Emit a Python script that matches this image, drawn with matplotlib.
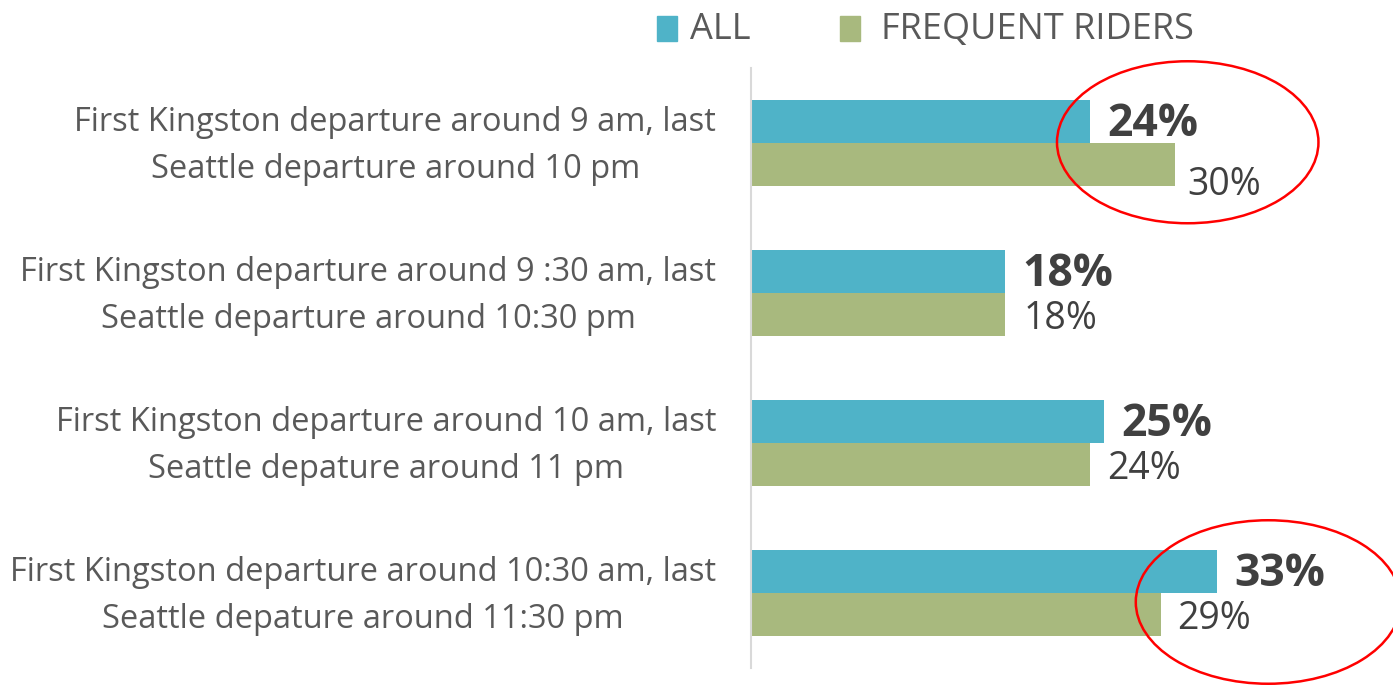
import matplotlib.pyplot as plt
from matplotlib.patches import Ellipse, Rectangle
from matplotlib.transforms import ScaledTranslation

categories = [
    "First Kingston departure around 9 am, last\nSeattle departure around 10 pm",
    "First Kingston departure around 9 :30 am, last\nSeattle departure around 10:30 pm",
    "First Kingston departure around 10 am, last\nSeattle depature around 11 pm",
    "First Kingston departure around 10:30 am, last\nSeattle depature around 11:30 pm",
]
all_vals = [24, 18, 25, 33]
freq_vals = [30, 18, 24, 29]
series_names = ["ALL", "FREQUENT RIDERS"]

blue = "#4FB3C8"
green = "#A8B97E"
txt = "#595959"
val_col = "#404040"
plt.rcParams['font.family'] = ['Open Sans', 'DejaVu Sans']

W, H = 1393, 685
fig = plt.figure(figsize=(W / 100, H / 100), dpi=100)
ax = fig.add_axes([751 / W, 1 - 668 / H, 636 / W, 600 / H])

h = 43 / 150
ys = list(range(len(categories)))
b1 = ax.barh([y - h / 2 for y in ys], all_vals, height=h, color=blue)
b2 = ax.barh([y + h / 2 for y in ys], freq_vals, height=h, color=green)

ax.set_xlim(0, 45)
ax.set_ylim(3.5, -0.5)
for s in ['top', 'right', 'bottom']:
    ax.spines[s].set_visible(False)
ax.spines['left'].set_color('#D9D9D9')
ax.spines['left'].set_linewidth(1.5)
ax.set_xticks([])
ax.set_yticks(ys)
ax.set_yticklabels(categories, fontsize=23.5, color=txt, ha='right',
                   linespacing=1.55)
ax.tick_params(axis='y', length=0, pad=25)
shift = ScaledTranslation(0, 0.08, fig.dpi_scale_trans)
for lab in ax.get_yticklabels():
    lab.set_multialignment('center')
    lab.set_transform(lab.get_transform() + shift)

# label offsets (points); the first frequent-riders label sits lower in the original
fr_offsets = [(9, -15), (13, -3.5), (12, -3.5), (12, -3.5)]
for y, v in zip(ys, all_vals):
    ax.annotate(f"{v}%", (v, y - h / 2), xytext=(12, -2), textcoords='offset points',
                ha='left', va='center', fontsize=32, fontweight='bold', color=val_col)
for y, v, off in zip(ys, freq_vals, fr_offsets):
    ax.annotate(f"{v}%", (v, y + h / 2), xytext=off, textcoords='offset points',
                ha='left', va='center', fontsize=27, color=val_col)

# red highlight circles
ax.add_patch(Ellipse((30.9, -0.005), 18.5, 1.08, fill=False, edgecolor='red',
                     linewidth=1.8, clip_on=False))
ax.add_patch(Ellipse((36.6, 3.06), 18.75, 1.09, fill=False, edgecolor='red',
                     linewidth=1.8, clip_on=False))

# legend
fig.add_artist(Rectangle((657 / W, 1 - 41 / H), 20 / W, 25 / H, color=blue,
                         transform=fig.transFigure))
fig.text(690 / W, 1 - 30 / H, series_names[0], fontsize=26, color=txt, va='center')
fig.add_artist(Rectangle((840 / W, 1 - 41 / H), 20 / W, 25 / H, color=green,
                         transform=fig.transFigure))
fig.text(881 / W, 1 - 30 / H, series_names[1], fontsize=26, color=txt, va='center')

fig.savefig("out.png", dpi=100)
